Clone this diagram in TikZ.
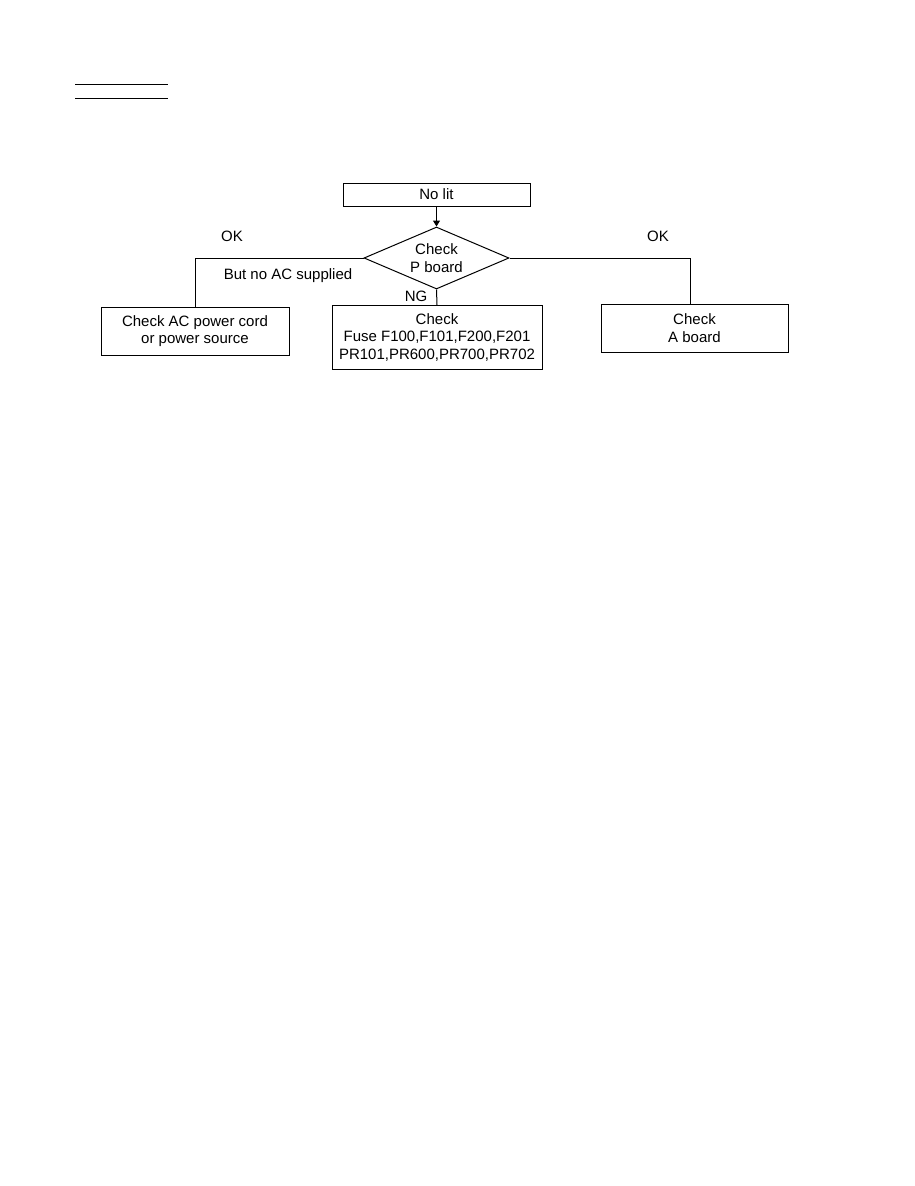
\documentclass[tikz,border=0pt]{standalone}
\usepackage{fontspec}
\setmainfont{Liberation Sans}
\usetikzlibrary{shapes.geometric,arrows.meta}
\tikzset{
  box/.style={draw,rectangle,line width=1pt,inner sep=0pt,align=center},
  check/.style={draw,diamond,line width=1pt,inner sep=0pt,
    minimum width=145pt,minimum height=62pt},
  lbl/.style={inner sep=0pt,align=center},
  link/.style={line width=1pt}
}
\begin{document}
\begin{tikzpicture}[x=1pt,y=-1pt,font=\fontsize{15}{17.5}\selectfont]
    \useasboundingbox (0,0) rectangle (914,1186);
    % heading rules
    \draw [link] (75,84) -- (168,84);
    \draw [link] (75,98) -- (168,98);
    % boxes
    \path (436.5,194.5) node[box,minimum width=187pt,minimum height=23pt] (nolit) {No lit};
    \path (436.5,258) node[check] (chk) {};
    \node[lbl] (chktxt) at (chk.center) {Check\\P board};
    \path (195,331) node[box,minimum width=188pt,minimum height=48pt] (ac) {Check AC power cord\\or power source};
    \path (437,337.5) node[box,minimum width=210pt,minimum height=64pt] (fuse) {Check\\Fuse F100,F101,F200,F201\\PR101,PR600,PR700,PR702};
    \path (694.5,328) node[box,minimum width=187pt,minimum height=48pt] (aboard) {Check\\A board};
    \coordinate (rc) at (690,258);
    % connectors
    \draw [link,-{Triangle[length=6pt,width=7pt]}] (nolit) -- (chk);
    \draw [link] (chk.west) -| (ac.north);
    \draw [link] (chk.south) -- (fuse.north);
    \draw [link] (chk.east) -- (rc) -- (rc |- aboard.north);
    % labels
    \node[lbl] (okl) at (232,236) {OK};
    \node[lbl] (okr) at (658,236) {OK};
    \node[lbl] (noac) at (288,276) {But no AC supplied};
    \node[lbl] (ng) at (416,296) {NG};
\end{tikzpicture}
\end{document}
